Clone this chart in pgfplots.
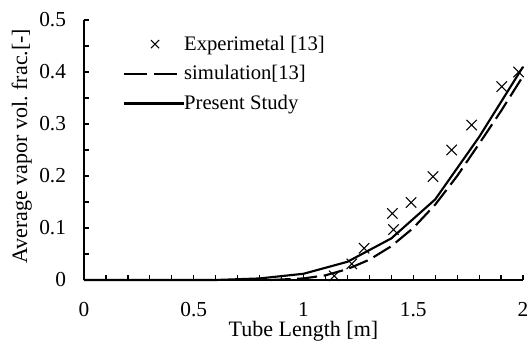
\documentclass[border=0pt]{standalone}
\usepackage{fontspec}
\setmainfont{Liberation Serif}
\usepackage{pgfplots}
\pgfplotsset{compat=1.18}
\pgfplotsset{
  crosslegend/.style={legend image code/.code={\draw[##1, mark size=4.3pt] plot coordinates {(23pt,0pt)};}},
  dashlegend/.style={legend image code/.code={\draw[##1, dash pattern=on 17pt off 5.5pt] (0pt,0pt) -- (45pt,0pt);}},
  linelegend/.style={legend image code/.code={\draw[##1] (0pt,0pt) -- (45pt,0pt);}},
}
\begin{document}
\begin{tikzpicture}
\begin{axis}[
  scale only axis,
  width=329.25pt, height=195pt,
  xmin=0, xmax=2, ymin=0, ymax=0.5,
  axis x line*=bottom, axis y line*=left,
  axis line style={-, line width=1.1pt},
  every outer x axis line/.append style={-},
  every outer y axis line/.append style={-},
  tick align=inside,
  xtick={0,0.5,...,2}, minor x tick num=4,
  ytick={0,0.1,...,0.5}, minor y tick num=1,
  major tick length=4pt, minor tick length=4pt,
  tick style={line width=0.9pt, black},
  clip=false,
  /pgf/number format/assume math mode=true,
  tick label style={font=\fontsize{16}{18}\selectfont},
  xticklabel style={yshift=-13pt},
  yticklabel style={xshift=-10pt},
  xlabel={Tube Length [m]},
  ylabel={Average vapor vol.\ frac.[-]},
  xlabel style={at={(axis description cs:0.5,-0.198)}, anchor=center, font=\fontsize{16.5}{18}\selectfont},
  ylabel style={at={(axis description cs:-0.142,0.515)}, anchor=center, font=\fontsize{16.5}{18}\selectfont},
  legend style={draw=none, fill=none, at={(0.089,0.95)}, anchor=north west,
    font=\fontsize{15.5}{17}\selectfont, row sep=6pt, inner sep=0pt,
    /tikz/every odd column/.append style={column sep=-3pt}},
  legend cell align=left,
]
\addplot[only marks, mark=x, mark size=5.5pt, mark options={line width=0.8pt, black}, crosslegend] coordinates {
(1.14,0.008) (1.22,0.031) (1.276,0.061) (1.405,0.128) (1.41,0.097) (1.49,0.149)
(1.59,0.199) (1.675,0.25) (1.766,0.298) (1.903,0.372) (1.98,0.40)
};
\addlegendentry{Experimetal [13]}
\addplot[black, line width=1.6pt, dash pattern=on 15pt off 5pt, dashlegend] coordinates {
(0.85,0) (1.0,0.003) (1.1,0.009) (1.2,0.021) (1.3,0.039) (1.4,0.065) (1.5,0.1)
(1.6,0.145) (1.7,0.2) (1.8,0.262) (1.9,0.325) (2.0,0.392)
};
\addlegendentry{simulation[13]}
\addplot[black, line width=1.6pt, linelegend] coordinates {
(0,0) (0.6,0) (0.8,0.003) (1.0,0.012) (1.2,0.035) (1.4,0.08) (1.6,0.155) (1.8,0.275) (2.0,0.41)
};
\addlegendentry{Present Study}
\coordinate (ll) at (rel axis cs:0,0);
\coordinate (ur) at (rel axis cs:1,1);
\end{axis}
\pgfresetboundingbox
\path ([xshift=-63pt,yshift=-47.25pt]ll) rectangle ([xshift=3pt,yshift=15pt]ur);
\end{tikzpicture}
\end{document}
